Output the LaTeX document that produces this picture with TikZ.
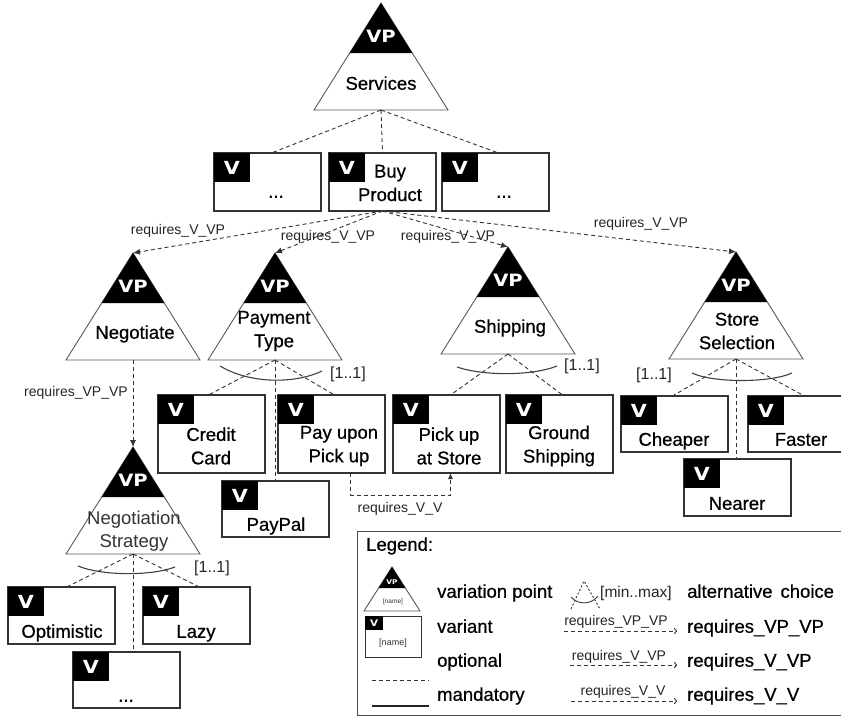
\documentclass[tikz,border=0pt]{standalone}
\usepackage{fontspec}
\setmainfont{Liberation Sans}
\newfontfamily\heavyfont{Liberation Sans}[FakeBold=0.6]
\newfontfamily\tagfont{DejaVu Sans}[FakeStretch=1.15]
\usetikzlibrary{arrows.meta,calc}

\newcommand\txtL{\heavyfont\fontsize{18.5}{23.5}\selectfont}
\newcommand\txtS{\fontsize{14}{16}\selectfont}
\newcommand\txtM{\fontsize{16}{18}\selectfont}

\tikzset{
  optline/.style={draw=black!80, line width=0.9pt, dash pattern=on 4pt off 3pt},
  req/.style={optline, -{Latex[length=7pt,width=6pt]}},
  tri/.style={draw=black!65, line width=0.9pt, fill=white},
  vbox/.style={draw=black!80, line width=1.2pt, fill=white, minimum width=107pt,
               anchor=north west, inner sep=0pt, outer sep=0pt},
  vtag/.style={fill=black, minimum width=36pt, minimum height=29pt, anchor=north west,
               inner sep=0pt, outer sep=0pt, text=white,
               font=\tagfont\bfseries\fontsize{18}{18}\selectfont},
  vptag/.style={text=white, inner sep=0pt, font=\tagfont\bfseries\fontsize{17}{17}\selectfont},
  ttl/.style={font=\txtL, align=center, inner sep=0pt},
  ttlone/.style={font=\txtL, inner sep=0pt, text height=13.5pt, text depth=4pt},
  lbl/.style={font=\txtS, inner sep=0pt, text=black!85},
  cardtxt/.style={font=\txtM, inner sep=0pt, text=black!85},
  altarc/.style={draw=black!75, line width=1.1pt},
}

% variation point: triangle with black head, apex at #2
\newcommand\VPtri[2]{%
  \coordinate (#1-apex) at #2;
  \coordinate (#1-base) at ($(#1-apex)+(0,107)$);
  \draw[tri] (#1-apex) -- ($(#1-apex)+(-67,107)$) -- ($(#1-apex)+(67,107)$) -- cycle;
  \fill[black] (#1-apex) -- ($(#1-apex)+(-31.3,50)$) -- ($(#1-apex)+(31.3,50)$) -- cycle;
  \node[vptag] (#1-vp) at ($(#1-apex)+(0,33)$) {VP};
}
% variant: box with black V tag, top-left corner at #2, height #3
\newcommand\Variant[3]{%
  \node[vbox, minimum height=#3] (#1) at #2 {};
  \node[vtag] (#1-tag) at (#1.north west) {V};
}

\begin{document}
\begin{tikzpicture}[x=1pt,y=-1pt]
\useasboundingbox[fill=white] (0,0) rectangle (841,718);

% ---------- variation points ----------
\VPtri{srv}{(381,3)}
\node[ttlone] (srv-t) at (381,85) {Services};
\VPtri{neg}{(133,253)}
\node[ttlone] (neg-t) at (135,334) {Negotiate};
\VPtri{pay}{(275,253)}
\node[ttl] (pay-t) at (274,331) {Payment\\Type};
\VPtri{shp}{(508,247)}
\node[ttlone] (shp-t) at (510,328) {Shipping};
\VPtri{sto}{(736,252)}
\node[ttl] (sto-t) at (737,331) {Store\\Selection};
\VPtri{nst}{(133,447)}
\node[align=center, inner sep=0pt, font=\fontsize{18.5}{23.5}\selectfont, text=black!80] (nst-t) at (134,531) {Negotiation\\Strategy};

% ---------- variants ----------
\Variant{b1}{(214,153)}{58pt}
\node[ttlone] (b1-t) at (276,193) {...};
\Variant{b2}{(329,153)}{58pt}
\node[ttl] (b2-t) at (390,183) {Buy\\Product};
\Variant{b3}{(442,153)}{58pt}
\node[ttlone] (b3-t) at (504,193) {...};

\Variant{cc}{(158,395)}{78pt}
\node[ttl] (cc-t) at (211,446) {Credit\\Card};
\Variant{pu}{(278,395)}{78pt}
\node[ttl] (pu-t) at (339,446) {Pay upon\\Pick up};
\Variant{pick}{(393,395)}{78pt}
\node[ttl] (pick-t) at (449,446) {Pick up\\at Store};
\Variant{gs}{(506,395)}{78pt}
\node[ttl] (gs-t) at (559,446) {Ground\\Shipping};
\Variant{cheap}{(621,396)}{56pt}
\node[ttlone] (cheap-t) at (674,441) {Cheaper};
\Variant{faster}{(748,396)}{56pt}
\node[ttlone] (faster-t) at (801,441) {Faster};
\Variant{nearer}{(684,459)}{57pt}
\node[ttlone] (nearer-t) at (737,505) {Nearer};
\Variant{paypal}{(222,481)}{56pt}
\node[ttlone] (paypal-t) at (276,526) {PayPal};
\Variant{opt}{(8,587)}{57pt}
\node[ttlone] (opt-t) at (62,633) {Optimistic};
\Variant{lazy}{(143,587)}{57pt}
\node[ttlone] (lazy-t) at (196,633) {Lazy};
\Variant{ndots}{(73,652)}{56pt}
\node[ttlone] (ndots-t) at (126,697) {...};

% ---------- optional children ----------
\draw[optline] (srv-base) -- ($(b1.north)+(4,0)$);
\draw[optline] (srv-base) -- (b2.north);
\draw[optline] (srv-base) -- ($(b3.north)+(3,0)$);

\draw[optline] (pay-base) -- ($(cc.north)+(-3,0)$);
\draw[optline] (pay-base) -- ($(pu.north)+(3,0)$);
\draw[optline] (pay-base) -- (pay-base |- paypal.north);

\draw[optline] (shp-base) -- ($(pick.north)+(4,0)$);
\draw[optline] (shp-base) -- ($(gs.north)+(3,0)$);

\draw[optline] (sto-base) -- ($(cheap.north)+(-2,0)$);
\draw[optline] (sto-base) -- ($(faster.north)+(3,0)$);
\draw[optline] (sto-base) -- (sto-base |- nearer.north);

\draw[optline] (nst-base) -- ($(opt.north)+(5,0)$);
\draw[optline] (nst-base) -- ($(lazy.north)+(3,0)$);
\draw[optline] (nst-base) -- (nst-base |- ndots.north);

% ---------- alternative choice arcs ----------
\draw[altarc] (220,366) .. controls (250,384) and (295,384) .. (322,371);
\node[cardtxt] (pay-card) at (348,374) {[1..1]};
\draw[altarc] (457,367) .. controls (483,376) and (532,376) .. (557,366);
\node[cardtxt] (shp-card) at (582,366) {[1..1]};
\draw[altarc] (692,373) .. controls (713,383) and (770,383) .. (792,373);
\node[cardtxt] (sto-card) at (654,375) {[1..1]};
\draw[altarc] (78,566) .. controls (102,576) and (152,576) .. (175,567);
\node[cardtxt] (nst-card) at (212,568) {[1..1]};

% ---------- requires dependencies ----------
\draw[req] (b2.south) -- (neg-apex);
\draw[req] (b2.south) -- (pay-apex);
\draw[req] (b2.south) -- (shp-apex);
\draw[req] (b2.south) -- (sto-apex);
\node[lbl] (r1) at (178,231) {requires\_V\_VP};
\node[lbl] (r2) at (328,237) {requires\_V\_VP};
\node[lbl] (r3) at (448,237) {requires\_V\_VP};
\node[lbl] (r4) at (641,224) {requires\_V\_VP};

\draw[req] (neg-base) -- (nst-apex);
\node[lbl] (r5) at (76,393) {requires\_VP\_VP};

\draw[optline, -{Latex[length=6pt,width=5pt]}] ($(pu.south)+(19,0)$) -- ++(0,22) -| ($(pick.south)+(4,0)$);
\node[lbl] (r6) at (400,509) {requires\_V\_V};

% ---------- legend ----------
\node[draw=black!70, line width=1.2pt, minimum width=495pt, minimum height=184pt,
      anchor=north west, inner sep=0pt] (legend) at (357,531) {};
\node[ttlone, anchor=west] (lg-title) at (366,546) {Legend:};

\coordinate (lg-apex) at (392,567);
\draw[tri] (lg-apex) -- ($(lg-apex)+(-28,44)$) -- ($(lg-apex)+(28,44)$) -- cycle;
\fill[black] (lg-apex) -- ($(lg-apex)+(-13.4,21)$) -- ($(lg-apex)+(13.4,21)$) -- cycle;
\node[text=white, inner sep=0pt, font=\tagfont\bfseries\fontsize{6.5}{7}\selectfont] (lg-vp) at (392,582) {VP};
\node[inner sep=0pt, font=\fontsize{6.5}{7}\selectfont, text=black!80] (lg-vpn) at (393,602) {[name]};

\node[vbox, minimum width=56pt, minimum height=41pt, line width=1pt] (lg-var) at (365,616) {};
\node[fill=black, minimum width=18pt, minimum height=14pt, anchor=north west, inner sep=0pt,
      text=white, font=\tagfont\bfseries\fontsize{9}{9}\selectfont] (lg-vtag) at (lg-var.north west) {V};
\node[inner sep=0pt, font=\fontsize{9}{10}\selectfont, text=black!80] (lg-varn) at (393,643) {[name]};

\coordinate (lg-o1) at (372,680);
\coordinate (lg-o2) at (429,680);
\draw[optline] (lg-o1) -- (lg-o2);
\coordinate (lg-m1) at (372,706);
\coordinate (lg-m2) at (429,706);
\draw[draw=black!85, line width=1.2pt] (lg-m1) -- (lg-m2);

\node[ttlone, anchor=west] (lg-t1) at (437,593) {variation point};
\node[ttlone, anchor=west] (lg-t2) at (437,628) {variant};
\node[ttlone, anchor=west] (lg-t3) at (437,662) {optional};
\node[ttlone, anchor=west] (lg-t4) at (437,696) {mandatory};

% alternative choice symbol
\coordinate (lg-a0) at (584,581);
\draw[optline, dash pattern=on 2pt off 2pt] (571,609) -- (lg-a0) -- (600,609);
\draw[altarc, line width=0.9pt] (571,597) .. controls (578,605) and (591,605) .. (598,596);
\node[inner sep=0pt, anchor=west, font=\fontsize{15.5}{17}\selectfont, text=black!85] (lg-mm) at (600,593) {[min..max]};

% dependency symbols
\node[lbl] (lg-s1) at (616,622) {requires\_VP\_VP};
\coordinate (lg-s1a) at (564,631);
\coordinate (lg-s1b) at (677,631);
\draw[optline, -{To[length=3pt,width=6pt]}] (lg-s1a) -- (lg-s1b);
\node[lbl] (lg-s2) at (619,657) {requires\_V\_VP};
\coordinate (lg-s2a) at (570,665);
\coordinate (lg-s2b) at (677,665);
\draw[optline, -{To[length=3pt,width=6pt]}] (lg-s2a) -- (lg-s2b);
\node[lbl] (lg-s3) at (623,692) {requires\_V\_V};
\coordinate (lg-s3a) at (571,701);
\coordinate (lg-s3b) at (677,701);
\draw[optline, -{To[length=3pt,width=6pt]}] (lg-s3a) -- (lg-s3b);

\node[ttlone, anchor=west] (lg-u1) at (687,593) {alternative\hspace{8pt}choice};
\node[ttlone, anchor=west] (lg-u2) at (687,628) {requires\_VP\_VP};
\node[ttlone, anchor=west] (lg-u3) at (687,662) {requires\_V\_VP};
\node[ttlone, anchor=west] (lg-u4) at (687,696) {requires\_V\_V};
\end{tikzpicture}
\end{document}
